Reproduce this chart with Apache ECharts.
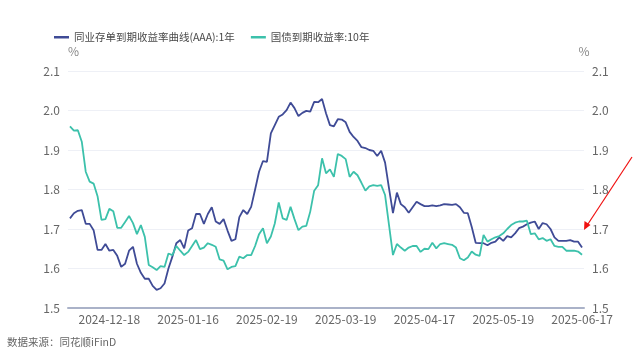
<!DOCTYPE html>
<html>
<head>
<meta charset="utf-8">
<script src="https://cdn.jsdelivr.net/npm/echarts@6/dist/echarts.min.js"></script>
<style>
html,body{margin:0;padding:0;background:#fff;}
#c{width:640px;height:361px;}
</style>
</head>
<body>
<div id="c"></div>
<script>
const dates = [
'2024-12-04','2024-12-05','2024-12-06','2024-12-09','2024-12-10','2024-12-11','2024-12-12','2024-12-13','2024-12-16','2024-12-17',
'2024-12-18','2024-12-19','2024-12-20','2024-12-23','2024-12-24','2024-12-25','2024-12-26','2024-12-27','2024-12-30','2024-12-31',
'2025-01-02','2025-01-03','2025-01-06','2025-01-07','2025-01-08','2025-01-09','2025-01-10','2025-01-13','2025-01-14','2025-01-15',
'2025-01-16','2025-01-17','2025-01-20','2025-01-21','2025-01-22','2025-01-23','2025-01-24','2025-01-26','2025-01-27',
'2025-02-05','2025-02-06','2025-02-07','2025-02-08','2025-02-10','2025-02-11','2025-02-12','2025-02-13','2025-02-14','2025-02-17','2025-02-18',
'2025-02-19','2025-02-20','2025-02-21','2025-02-24','2025-02-25','2025-02-26','2025-02-27','2025-02-28',
'2025-03-03','2025-03-04','2025-03-05','2025-03-06','2025-03-07','2025-03-10','2025-03-11','2025-03-12','2025-03-13','2025-03-14','2025-03-17','2025-03-18',
'2025-03-19','2025-03-20','2025-03-21','2025-03-24','2025-03-25','2025-03-26','2025-03-27','2025-03-28','2025-03-31',
'2025-04-01','2025-04-02','2025-04-03','2025-04-07','2025-04-08','2025-04-09','2025-04-10','2025-04-11','2025-04-14','2025-04-15','2025-04-16',
'2025-04-17','2025-04-18','2025-04-21','2025-04-22','2025-04-23','2025-04-24','2025-04-25','2025-04-27','2025-04-28','2025-04-29','2025-04-30',
'2025-05-06','2025-05-07','2025-05-08','2025-05-09','2025-05-12','2025-05-13','2025-05-14','2025-05-15','2025-05-16',
'2025-05-19','2025-05-20','2025-05-21','2025-05-22','2025-05-23','2025-05-26','2025-05-27','2025-05-28','2025-05-29','2025-05-30',
'2025-06-03','2025-06-04','2025-06-05','2025-06-06','2025-06-09','2025-06-10','2025-06-11','2025-06-12','2025-06-13','2025-06-16',
'2025-06-17'
];

const tickLabels = ['2024-12-18','2025-01-16','2025-02-19','2025-03-19','2025-04-17','2025-05-19','2025-06-17'];

const ncdName = '同业存单到期收益率曲线(AAA):1年';
const ncdValues = [
1.727,1.740,1.746,1.748,1.713,1.713,1.697,1.647,1.647,1.662,
1.645,1.647,1.632,1.604,1.612,1.645,1.655,1.612,1.589,1.574,
1.574,1.556,1.546,1.550,1.562,1.600,1.630,1.664,1.672,1.651,
1.696,1.702,1.738,1.738,1.713,1.738,1.755,1.719,1.713,1.725,
1.696,1.670,1.674,1.730,1.748,1.738,1.756,1.800,1.845,1.872,
1.870,1.942,1.963,1.984,1.990,2.001,2.020,2.006,1.986,1.994,
1.999,1.997,2.022,2.021,2.029,1.993,1.963,1.960,1.978,1.977,
1.970,1.946,1.933,1.923,1.907,1.905,1.900,1.898,1.885,1.898,
1.868,1.803,1.740,1.792,1.763,1.755,1.741,1.755,1.769,1.763,
1.758,1.758,1.760,1.758,1.760,1.763,1.762,1.761,1.763,1.755,
1.741,1.740,1.705,1.665,1.664,1.664,1.659,1.665,1.668,1.679,
1.670,1.682,1.679,1.689,1.702,1.706,1.712,1.716,1.719,1.700,
1.715,1.712,1.700,1.679,1.670,1.670,1.670,1.672,1.668,1.668,
1.653
];

const bondName = '国债到期收益率:10年';
const bondValues = [
1.960,1.949,1.950,1.921,1.845,1.820,1.815,1.783,1.723,1.725,
1.751,1.745,1.703,1.703,1.718,1.733,1.715,1.687,1.710,1.680,
1.609,1.603,1.596,1.606,1.604,1.638,1.634,1.657,1.645,1.634,
1.642,1.657,1.672,1.649,1.653,1.664,1.660,1.655,1.623,1.620,
1.598,1.604,1.606,1.630,1.626,1.634,1.634,1.657,1.687,1.702,
1.664,1.681,1.714,1.767,1.727,1.723,1.756,1.725,1.697,1.706,
1.708,1.744,1.797,1.811,1.879,1.841,1.851,1.832,1.890,1.885,
1.877,1.832,1.845,1.836,1.817,1.797,1.808,1.811,1.809,1.811,
1.786,1.710,1.634,1.662,1.653,1.645,1.653,1.657,1.657,1.642,
1.650,1.649,1.665,1.651,1.662,1.664,1.662,1.660,1.653,1.626,
1.621,1.628,1.643,1.635,1.632,1.685,1.668,1.674,1.679,1.682,
1.689,1.700,1.710,1.716,1.719,1.719,1.721,1.687,1.689,1.674,
1.677,1.670,1.674,1.657,1.655,1.655,1.645,1.645,1.645,1.643,
1.635
];

const sourceText = '数据来源：同花顺iFinD';

const FONT = '"Noto Sans CJK SC", "Noto Sans", sans-serif';
const chart = echarts.init(document.getElementById('c'), null, {renderer: 'canvas'});
const yAxisCommon = {
  type: 'value', min: 1.5, max: 2.1, interval: 0.1,
  axisLine: {show: false}, axisTick: {show: false},
  splitLine: {show: true, lineStyle: {color: '#eef0f6', width: 1}},
  axisLabel: {color: '#666', fontSize: 12, fontFamily: FONT, formatter: v => v.toFixed(1)},
  nameTextStyle: {color: '#888', fontSize: 12, fontFamily: FONT},
  nameGap: 14
};
chart.setOption({
  animation: false,
  textStyle: {fontFamily: FONT},
  grid: {left: 68, right: 56, top: 71, bottom: 53, containLabel: false},
  legend: {
    left: 49, top: 27, itemGap: 16, itemWidth: 15, itemHeight: 2.5, icon: 'rect',
    textStyle: {color: '#4a4a4a', fontSize: 10.5, fontFamily: FONT},
    data: [ncdName, bondName]
  },
  xAxis: {
    type: 'category', data: dates, boundaryGap: true,
    axisLine: {show: true, lineStyle: {color: '#aab2c8', width: 2}},
    axisTick: {show: false},
    splitLine: {show: false},
    axisLabel: {
      color: '#666', fontSize: 12, fontFamily: FONT, margin: 5,
      interval: (idx, val) => tickLabels.indexOf(val) >= 0,
      hideOverlap: false
    }
  },
  yAxis: [
    Object.assign({}, yAxisCommon, {position: 'left', name: '%', nameTextStyle: Object.assign({}, yAxisCommon.nameTextStyle, {align: 'left'})}),
    Object.assign({}, yAxisCommon, {position: 'right', name: '%', nameTextStyle: Object.assign({}, yAxisCommon.nameTextStyle, {align: 'center'})})
  ],
  series: [
    {name: ncdName, type: 'line', data: ncdValues, yAxisIndex: 0, showSymbol: false, symbol: 'none',
     lineStyle: {color: '#3f4b96', width: 1.8}, itemStyle: {color: '#3f4b96'}},
    {name: bondName, type: 'line', data: bondValues, yAxisIndex: 0, showSymbol: false, symbol: 'none',
     lineStyle: {color: '#3cc1ab', width: 1.8}, itemStyle: {color: '#3cc1ab'}}
  ],
  graphic: [
    {type: 'text', left: 7, top: 337, style: {text: sourceText, fill: '#666', fontSize: 10.5, fontFamily: FONT}},
    {type: 'line', shape: {x1: 632, y1: 157, x2: 586, y2: 227}, style: {stroke: '#f01010', lineWidth: 1.2}},
    {type: 'polygon', shape: {points: [[584, 230], [584.5, 221], [590.5, 225]]}, style: {fill: '#f01010'}}
  ]
});
</script>
</body>
</html>
